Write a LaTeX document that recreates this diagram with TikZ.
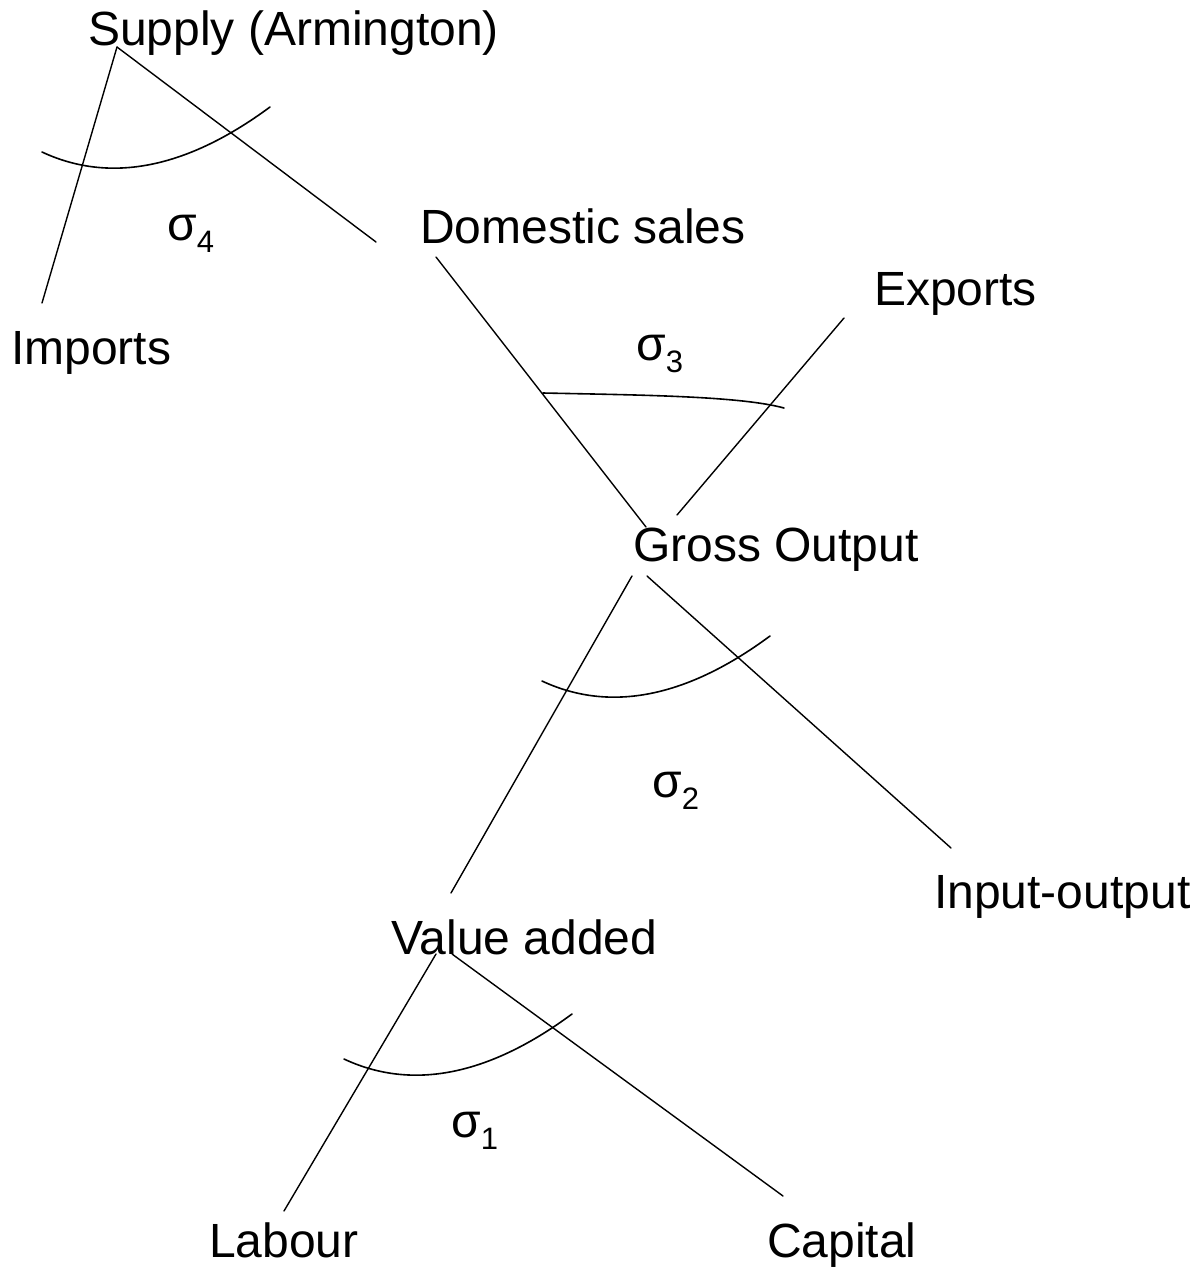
\documentclass[tikz,border=0pt]{standalone}
\usepackage{fontspec}
\setmainfont{Liberation Sans}
\begin{document}
\begin{tikzpicture}[x=1pt,y=-1pt,
  lbl/.style={anchor=base west, inner sep=0pt, font=\fontsize{48}{57}\selectfont},
  conn/.style={line width=1.4pt, line cap=round},
  sigarc/.style={line width=1.6pt, line cap=round}]
\useasboundingbox (0,0) rectangle (1199,1267);
\newcommand{\sig}[1]{σ\raisebox{-12pt}{\fontsize{31}{31}\selectfont #1}}
% labels
\node[lbl] (supply)  at (88,45)    {Supply (Armington)};
\node[lbl] (domest)  at (420,243)  {Domestic sales};
\node[lbl] (exports) at (874,305)  {Exports};
\node[lbl] (imports) at (11,364)   {Imports};
\node[lbl] (gross)   at (633,561)  {Gross Output};
\node[lbl] (inout)   at (934,908)  {Input-output};
\node[lbl] (value)   at (391,954)  {Value added};
\node[lbl] (labour)  at (209,1257) {Labour};
\node[lbl] (capital) at (767,1257) {Capital};
% sigma labels
\node[lbl] (s4) at (167,240)  {\sig{4}};
\node[lbl] (s3) at (636,360)  {\sig{3}};
\node[lbl] (s2) at (652,797)  {\sig{2}};
\node[lbl] (s1) at (451,1137) {\sig{1}};
% connector end points
\coordinate (supA)  at (117,47);
\coordinate (impE)  at (42,303);
\coordinate (domE)  at (376,242);
\coordinate (domS)  at (436,257);
\coordinate (groA)  at (646,527);
\coordinate (expS)  at (844,318);
\coordinate (groB)  at (677,515);
\coordinate (groL)  at (632,576);
\coordinate (valE)  at (451,893);
\coordinate (groR)  at (647,576);
\coordinate (ioE)   at (951,848);
\coordinate (valL)  at (436,954);
\coordinate (labE)  at (284,1211);
\coordinate (valR)  at (452,954);
\coordinate (capE)  at (783,1196);
% connectors
\draw[conn] (supA) -- (impE);
\draw[conn] (supA) -- (domE);
\draw[conn] (domS) -- (groA);
\draw[conn] (expS) -- (groB);
\draw[conn] (groL) -- (valE);
\draw[conn] (groR) -- (ioE);
\draw[conn] (valL) -- (labE);
\draw[conn] (valR) -- (capE);
% elasticity arcs
\draw[sigarc, shift={(42,152)}]  (0,0) .. controls (64,30) and (140,20) .. (228,-45);
\draw[sigarc, shift={(542,681)}] (0,0) .. controls (64,30) and (140,20) .. (228,-45);
\draw[sigarc, shift={(344,1059)}] (0,0) .. controls (64,30) and (140,20) .. (228,-45);
\draw[sigarc] (543,393) .. controls (640,395) and (740,396) .. (784,408);
\end{tikzpicture}
\end{document}
